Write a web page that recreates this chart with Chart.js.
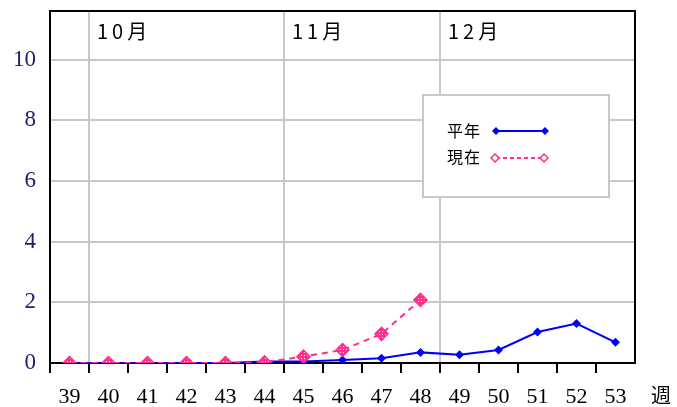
<!DOCTYPE html>
<html>
<head>
<meta charset="utf-8">
<script src="https://cdn.jsdelivr.net/npm/chart.js@4"></script>
<style>
html,body{margin:0;padding:0;background:#fff;}
#wrap{width:677px;height:407px;position:relative;}
</style>
</head>
<body>
<div id="wrap"><canvas id="c"></canvas></div>
<script>
const weeks = ['39','40','41','42','43','44','45','46','47','48','49','50','51','52','53'];
const heinen = [0,0,0,0,0,0.05,0.05,0.1,0.16,0.35,0.27,0.43,1.02,1.3,0.68];
const genzai = [0,0,0,0,0,0.02,0.21,0.43,0.96,2.08,null,null,null,null,null];
const yTicks = [0,2,4,6,8,10];
const monthLabels = ['10月','11月','12月'];
const monthStartIdx = [1,6,10];
const seriesNames = ['平年','現在'];

const BLUE = '#0000ff';
const PINK = '#ff2d8c';
const GRID = '#c8c8c8';

// hatched fill for pink markers
const pc = document.createElement('canvas');
pc.width = 3; pc.height = 3;
const pctx = pc.getContext('2d');
pctx.fillStyle = PINK; pctx.fillRect(0,0,3,3);
pctx.fillStyle = '#ffffff'; pctx.fillRect(1,1,1,1);
const pinkPattern = pctx.createPattern(pc,'repeat');

const overlay = {
  id:'overlay',
  afterDraw(chart){
    const ctx = chart.ctx, a = chart.chartArea, xs = chart.scales.x;
    ctx.save();
    // outer frame (top/right)
    ctx.strokeStyle = '#000'; ctx.lineWidth = 2;
    ctx.beginPath();
    ctx.moveTo(a.left, a.top); ctx.lineTo(a.right, a.top); ctx.lineTo(a.right, a.bottom);
    ctx.stroke();
    // month labels
    ctx.fillStyle = '#000';
    ctx.font = '20px "Noto Sans CJK JP"';
    ctx.textBaseline = 'middle'; ctx.textAlign = 'left';
    ctx.letterSpacing = '4px';
    monthLabels.forEach((m,i)=>{
      const idx = monthStartIdx[i];
      const x = (xs.getPixelForTick(idx) + xs.getPixelForTick(idx-1))/2;
      ctx.fillText(m, x + 8, a.top + 20);
    });
    ctx.letterSpacing = '0px';
    // 週
    ctx.font = '20px "Noto Sans CJK JP"';
    ctx.fillText('週', 651, 395);
    // legend
    const lx = 423, ly = 95, lw = 186, lh = 102;
    ctx.fillStyle = '#fff';
    ctx.fillRect(lx, ly, lw, lh);
    ctx.strokeStyle = GRID; ctx.lineWidth = 2;
    ctx.strokeRect(lx, ly, lw, lh);
    ctx.fillStyle = '#000';
    ctx.font = '16px "Noto Sans CJK JP"';
    ctx.letterSpacing = '1px';
    ctx.fillText(seriesNames[0], 447, 131);
    ctx.fillText(seriesNames[1], 447, 157);
    ctx.letterSpacing = '0px';
    // blue sample
    ctx.strokeStyle = BLUE; ctx.lineWidth = 2; ctx.setLineDash([]);
    ctx.beginPath(); ctx.moveTo(496,131); ctx.lineTo(545,131); ctx.stroke();
    [496,545].forEach(x=>{
      ctx.fillStyle = BLUE; ctx.beginPath();
      ctx.moveTo(x,127); ctx.lineTo(x+4,131); ctx.lineTo(x,135); ctx.lineTo(x-4,131); ctx.closePath(); ctx.fill();
    });
    // pink sample
    ctx.strokeStyle = PINK; ctx.setLineDash([4,3]);
    ctx.beginPath(); ctx.moveTo(496,158); ctx.lineTo(544,158); ctx.stroke();
    ctx.setLineDash([]);
    [495,544].forEach(x=>{
      ctx.fillStyle = '#fff'; ctx.strokeStyle = PINK; ctx.lineWidth = 1.5;
      ctx.beginPath();
      ctx.moveTo(x,154); ctx.lineTo(x+4,158); ctx.lineTo(x,162); ctx.lineTo(x-4,158); ctx.closePath(); ctx.fill(); ctx.stroke();
    });
    ctx.restore();
  }
};

new Chart(document.getElementById('c'), {
  type:'line',
  data:{
    labels: weeks,
    datasets:[
      {label:seriesNames[1], data:genzai, borderColor:PINK, borderWidth:2, borderDash:[6,5],
       pointStyle:'rectRot', pointRadius:6.5, pointBackgroundColor:pinkPattern, pointBorderColor:PINK, pointBorderWidth:1.5,
       tension:0, order:0, spanGaps:false},
      {label:seriesNames[0], data:heinen, borderColor:BLUE, borderWidth:2,
       pointStyle:'rectRot', pointRadius:4.5, pointBackgroundColor:BLUE, pointBorderColor:BLUE, pointBorderWidth:0,
       tension:0, order:1}
    ]
  },
  options:{
    responsive:true, maintainAspectRatio:false, animation:false,
    layout:{padding:{left:0,right:42,top:11,bottom:0}},
    plugins:{legend:{display:false}, tooltip:{enabled:false}},
    scales:{
      x:{
        offset:true,
        afterFit(s){ s.height = 44; s.paddingLeft = 0; s.paddingRight = 0; },
        grid:{
          offset:true, drawOnChartArea:true, drawTicks:true, tickLength:10,
          lineWidth:2, tickWidth:2,
          color:(c)=> (c.index!==undefined && monthStartIdx.includes(c.index)) ? GRID : 'rgba(0,0,0,0)',
          tickColor:(c)=> (c.index!==undefined && c.index < weeks.length) ? '#000' : 'rgba(0,0,0,0)'
        },
        border:{display:true, color:'#000', width:2},
        ticks:{color:'#000', font:{family:'"Liberation Serif"', size:22}, padding:11, maxRotation:0, autoSkip:false}
      },
      y:{
        min:0, max:11.6,
        afterFit(s){ s.width = 50; s.paddingTop = 0; s.paddingBottom = 0; },
        afterBuildTicks(s){ s.ticks = yTicks.map(v=>({value:v})); },
        grid:{drawTicks:false, lineWidth:2,
          color:(c)=> (c.tick && c.tick.value===0) ? 'rgba(0,0,0,0)' : GRID},
        border:{display:true, color:'#000', width:2},
        ticks:{color:'#22226a', font:{family:'"Liberation Serif"', size:23}, padding:14}
      }
    }
  },
  plugins:[overlay]
});
</script>
</body>
</html>
